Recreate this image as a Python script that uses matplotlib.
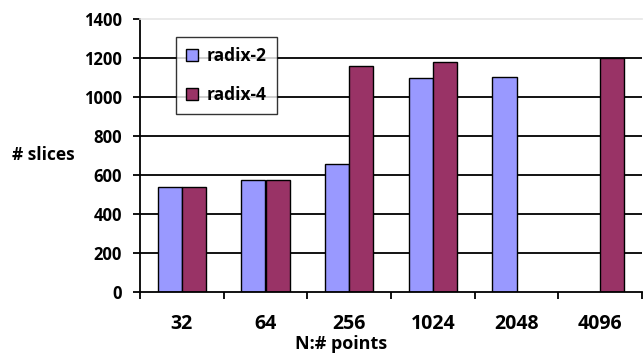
import matplotlib.pyplot as plt
import numpy as np

plt.rcParams['font.family'] = ['Open Sans', 'DejaVu Sans']
plt.rcParams['font.weight'] = 'bold'

categories = ['32', '64', '256', '1024', '2048', '4096']
radix2 = [540, 573, 656, 1096, 1105, np.nan]
radix4 = [540, 573, 1157, 1180, np.nan, 1200]

fig = plt.figure(figsize=(6.44, 3.54), dpi=100)
ax = fig.add_axes([140 / 644, 1 - 292 / 354, 502 / 644, 273 / 354])

x = np.arange(len(categories))
w = 0.29
ax.bar(x - w / 2, radix2, w, color='#9999ff', edgecolor='black',
       linewidth=1.0, label='radix-2', zorder=3)
ax.bar(x + w / 2, radix4, w, color='#993366', edgecolor='black',
       linewidth=1.0, label='radix-4', zorder=3)

ax.set_xlim(-0.5, len(categories) - 0.5)
ax.set_ylim(0, 1400)
ax.set_yticks(range(0, 1401, 200))

# gridlines in black, top one faint like the plot-area border
for v in range(200, 1201, 200):
    ax.axhline(v, color='black', linewidth=1.3, zorder=1)
ax.spines['top'].set_color('#e6e6e6')
ax.spines['top'].set_linewidth(1.2)
ax.spines['right'].set_visible(False)
ax.spines['left'].set_linewidth(1.3)
ax.spines['bottom'].set_linewidth(1.3)
ax.spines['bottom'].set_zorder(4)

# category ticks sit on the group boundaries
ax.set_xticks(np.arange(len(categories) + 1) - 0.5)
ax.set_xticklabels([])
ax.set_xticks(x, minor=True)
ax.set_xticklabels(categories, minor=True)
ax.tick_params(axis='x', which='major', direction='out', length=5, width=1.3)
ax.tick_params(axis='x', which='minor', length=0, pad=16, labelsize=14)
ax.tick_params(axis='y', direction='out', length=5, width=1.3, labelsize=12, pad=8)

ax.set_xlabel('N:# points', fontsize=13, fontweight='bold', va='bottom')
ax.xaxis.set_label_coords(0.401, -0.225)
ax.set_ylabel('# slices', fontsize=12.5, fontweight='bold', rotation=0,
              va='center', ha='left')
ax.yaxis.set_label_coords(-0.254, 0.5)

leg = ax.legend(loc='upper left', bbox_to_anchor=(0.071, 0.935), fontsize=12.5,
                frameon=True, fancybox=False, edgecolor='black',
                handlelength=0.7, handleheight=0.7, handletextpad=0.5,
                labelspacing=1.2, borderpad=0.6, borderaxespad=0)
leg.get_frame().set_linewidth(1.0)
leg.set_zorder(5)

fig.savefig('out.png', dpi=100)
